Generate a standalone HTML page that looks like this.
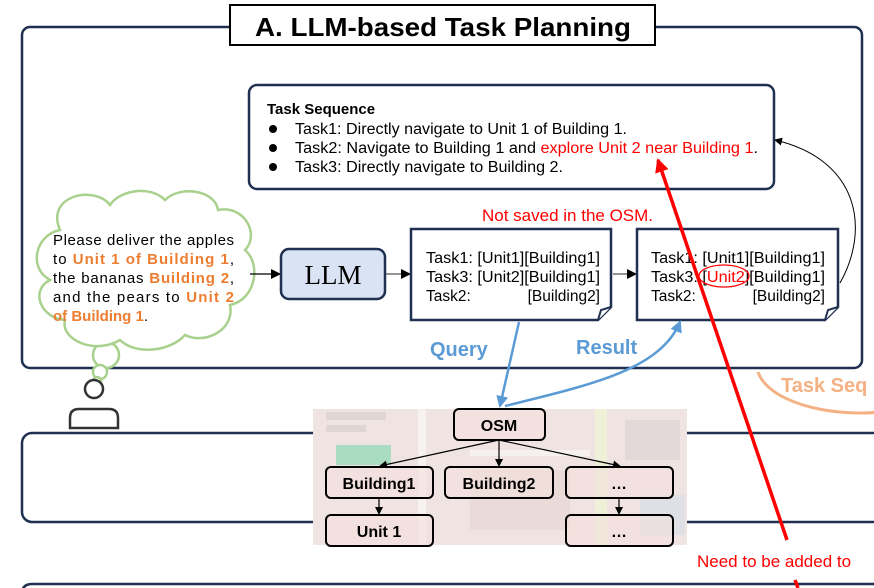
<!DOCTYPE html>
<html><head><meta charset="utf-8"><style>
html,body{margin:0;padding:0;background:#fff;overflow:hidden;width:874px;height:588px;}
svg{display:block;font-family:"Liberation Sans",Arial,sans-serif;}
</style></head><body>
<svg width="874" height="588" viewBox="0 0 874 588" xmlns="http://www.w3.org/2000/svg">
<defs>
<marker id="ab" markerWidth="10" markerHeight="10" refX="9" refY="5" orient="auto" markerUnits="userSpaceOnUse"><path d="M0,0 L10,5 L0,10 z" fill="#000"/></marker>
<marker id="as" markerWidth="8" markerHeight="8" refX="7" refY="4" orient="auto" markerUnits="userSpaceOnUse"><path d="M0,0 L8,4 L0,8 z" fill="#000"/></marker>
<marker id="abl" markerWidth="12" markerHeight="12" refX="10" refY="6" orient="auto" markerUnits="userSpaceOnUse"><path d="M0,0 L12,6 L0,12 z" fill="#5b9bd5"/></marker>
<marker id="ar" markerWidth="14" markerHeight="14" refX="12" refY="7" orient="auto" markerUnits="userSpaceOnUse"><path d="M0,0 L14,7 L0,14 z" fill="#ff0000"/></marker>
</defs>

<ellipse cx="860" cy="365" rx="103" ry="48" fill="none" stroke="#f4b183" stroke-width="3"/>
<rect x="740" y="300" width="134" height="72" fill="#fff"/>
<text x="781" y="392" font-size="20" font-weight="bold" fill="#f4b183">Task Seq</text>

<rect x="22" y="27" width="840" height="341" rx="8" fill="none" stroke="#1f3050" stroke-width="2.5"/>
<rect x="230" y="5" width="425" height="40" fill="#fff" stroke="#000" stroke-width="2"/>
<text x="443" y="36" font-size="26" font-weight="bold" text-anchor="middle" textLength="376" lengthAdjust="spacingAndGlyphs">A. LLM-based Task Planning</text>

<rect x="22" y="433" width="870" height="89" rx="10" fill="none" stroke="#1f3050" stroke-width="2.5"/>
<path d="M22,600 L22,594 Q22,584 32,584 L880,584" fill="none" stroke="#1f3050" stroke-width="2.5"/>

<rect x="313" y="409" width="374" height="136" fill="#efe4e1"/>
<rect x="326" y="412" width="60" height="8" fill="#e0d6d4"/>
<rect x="326" y="425" width="40" height="7" fill="#e0d6d4"/>
<rect x="336" y="445" width="55" height="20" fill="#a9dcc0"/>
<rect x="418" y="409" width="8" height="136" fill="#f7f2f0"/>
<rect x="470" y="450" width="120" height="6" fill="#f6f0ee"/>
<rect x="595" y="409" width="12" height="136" fill="#eef0d8"/>
<rect x="625" y="420" width="55" height="40" fill="#e2d9d8"/>
<rect x="640" y="495" width="45" height="40" fill="#dfe0e6"/>
<rect x="470" y="470" width="100" height="60" fill="#eadbd9"/>

<g stroke="#000" stroke-width="1.2" fill="none">
<line x1="499" y1="440" x2="380" y2="466" marker-end="url(#as)"/>
<line x1="499" y1="440" x2="499" y2="466" marker-end="url(#as)"/>
<line x1="499" y1="440" x2="620" y2="466" marker-end="url(#as)"/>
<line x1="379" y1="498" x2="379" y2="514" marker-end="url(#as)"/>
<line x1="619" y1="498" x2="619" y2="514" marker-end="url(#as)"/>
</g>
<g fill="#f3dfdc" fill-opacity="0.6" stroke="#000" stroke-width="2">
<rect x="454" y="409" width="91" height="31" rx="5"/>
<rect x="326" y="467" width="107" height="31" rx="5"/>
<rect x="445" y="467" width="108" height="31" rx="5"/>
<rect x="566" y="467" width="107" height="31" rx="5"/>
<rect x="326" y="515" width="107" height="31" rx="5"/>
<rect x="566" y="515" width="107" height="31" rx="5"/>
</g>
<g font-size="16" font-weight="bold" text-anchor="middle">
<text x="499" y="431">OSM</text>
<text x="379" y="489">Building1</text>
<text x="499" y="489">Building2</text>
<text x="619" y="489">…</text>
<text x="379" y="537">Unit 1</text>
<text x="619" y="537">…</text>
</g>

<rect x="249" y="85" width="525" height="104" rx="8" fill="#fff" stroke="#1f3050" stroke-width="2.5"/>
<text x="267" y="114" font-size="15" font-weight="bold">Task Sequence</text>
<g font-size="15.5">
<circle cx="273" cy="129" r="4"/><text x="295" y="134" textLength="332" lengthAdjust="spacingAndGlyphs">Task1: Directly navigate to Unit 1 of Building 1.</text>
<circle cx="273" cy="148" r="4"/><text x="295" y="153" textLength="463" lengthAdjust="spacingAndGlyphs">Task2: Navigate to Building 1 and <tspan fill="#ff0000">explore Unit 2 near Building 1</tspan>.</text>
<circle cx="273" cy="167" r="4"/><text x="295" y="172" textLength="268" lengthAdjust="spacingAndGlyphs">Task3: Directly navigate to Building 2.</text>
</g>

<g fill="#fff" stroke="#a9d18e" stroke-width="2.5">
<circle cx="106" cy="355" r="13"/>
<circle cx="100" cy="372" r="7"/>
<circle cx="97" cy="381" r="4"/>
</g>
<path d="M60,230 C45,195 95,185 110,205 C120,190 150,185 165,200 C180,185 215,190 218,210 C245,205 260,235 245,250 C262,265 255,300 230,305 C235,330 205,345 185,335 C170,352 135,355 120,340 C95,355 60,340 65,320 C40,318 30,290 50,280 C28,268 35,235 60,230 Z" fill="#fff" stroke="#a9d18e" stroke-width="2.5"/>
<g font-size="15">
<text x="53" y="245" textLength="181" lengthAdjust="spacing">Please deliver the apples</text>
<text x="53" y="264" textLength="181" lengthAdjust="spacing">to <tspan fill="#ed7d31" font-weight="bold">Unit 1 of Building 1</tspan>,</text>
<text x="53" y="283" textLength="181" lengthAdjust="spacing">the bananas <tspan fill="#ed7d31" font-weight="bold">Building 2</tspan>,</text>
<text x="53" y="302" textLength="181" lengthAdjust="spacing">and the pears to <tspan fill="#ed7d31" font-weight="bold">Unit 2</tspan></text>
<text x="53" y="321"><tspan fill="#ed7d31" font-weight="bold">of Building 1</tspan>.</text>
</g>

<circle cx="94" cy="389" r="9" fill="#fff" stroke="#333" stroke-width="2.5"/>
<path d="M70,428 L70,418 Q70,409 79,409 L109,409 Q118,409 118,418 L118,428 Z" fill="#fff" stroke="#333" stroke-width="2.5"/>

<line x1="250" y1="274" x2="280" y2="274" stroke="#000" stroke-width="1.2" marker-end="url(#ab)"/>
<rect x="281" y="249" width="104" height="50" rx="8" fill="#dae3f3" stroke="#1f3050" stroke-width="2.5"/>
<text x="333" y="284" font-size="27" font-family="Liberation Serif,serif" text-anchor="middle">LLM</text>
<line x1="386" y1="274" x2="410" y2="274" stroke="#555" stroke-width="1.2" marker-end="url(#ab)"/>

<path d="M411,229 L611,229 L611,307 L598,320 L411,320 Z" fill="#fff" stroke="#1f3050" stroke-width="2.5"/>
<path d="M598,320 L601,310 L611,307" fill="#fff" stroke="#1f3050" stroke-width="2"/>
<g font-size="15.5">
<text x="426" y="263" textLength="174" lengthAdjust="spacingAndGlyphs">Task1: [Unit1][Building1]</text>
<text x="426" y="282" textLength="174" lengthAdjust="spacingAndGlyphs">Task3: [Unit2][Building1]</text>
<text x="426" y="301">Task2:</text><text x="600" y="301" text-anchor="end">[Building2]</text>
</g>
<line x1="613" y1="274" x2="636" y2="274" stroke="#555" stroke-width="1.2" marker-end="url(#ab)"/>

<path d="M637,229 L838,229 L838,307 L825,320 L637,320 Z" fill="#fff" stroke="#1f3050" stroke-width="2.5"/>
<path d="M825,320 L828,310 L838,307" fill="#fff" stroke="#1f3050" stroke-width="2"/>
<g font-size="15.5">
<text x="651" y="263" textLength="174" lengthAdjust="spacingAndGlyphs">Task1: [Unit1][Building1]</text>
<text x="651" y="282" textLength="174" lengthAdjust="spacingAndGlyphs">Task3: [<tspan fill="#ff0000">Unit2</tspan>][Building1]</text>
<text x="651" y="301">Task2:</text><text x="825" y="301" text-anchor="end">[Building2]</text>
</g>
<ellipse cx="724" cy="276" rx="25" ry="11" fill="none" stroke="#ff0000" stroke-width="1.2"/>

<path d="M840,283 C870,230 860,160 775,140" fill="none" stroke="#000" stroke-width="1" marker-end="url(#as)"/>

<text x="482" y="221" font-size="17" fill="#ff0000">Not saved in the OSM.</text>

<text x="430" y="356" font-size="20" font-weight="bold" fill="#5b9bd5">Query</text>
<text x="576" y="354" font-size="20" font-weight="bold" fill="#5b9bd5">Result</text>
<line x1="519" y1="322" x2="500" y2="406" stroke="#5b9bd5" stroke-width="2.5" marker-end="url(#abl)"/>
<path d="M505,406 C590,385 660,370 680,322" fill="none" stroke="#5b9bd5" stroke-width="2.5" marker-end="url(#abl)"/>

<line x1="787" y1="540" x2="658" y2="160" stroke="#ff0000" stroke-width="3.5" marker-end="url(#ar)"/>
<line x1="795" y1="580" x2="798" y2="588" stroke="#ff0000" stroke-width="3.5"/>
<text x="697" y="567" font-size="17" fill="#ff0000">Need to be added to</text>
</svg>
</body></html>
